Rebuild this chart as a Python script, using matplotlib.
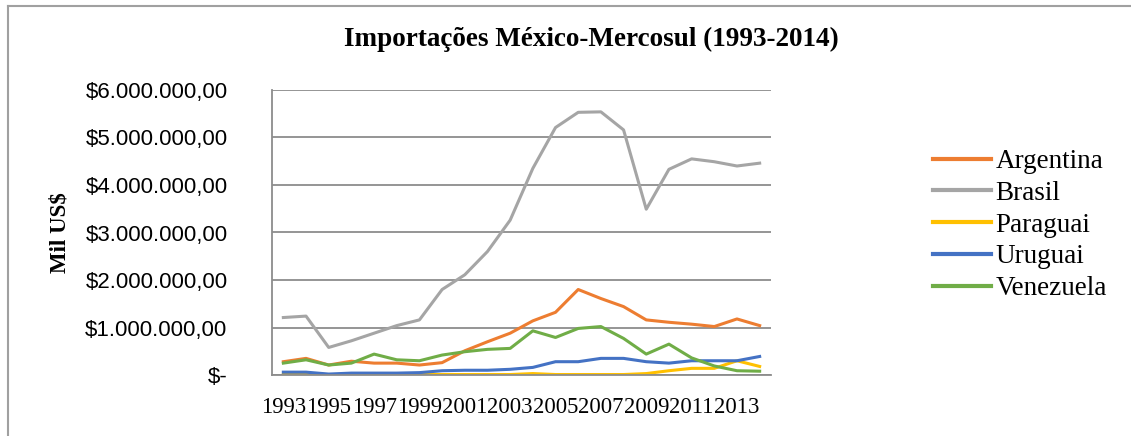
import numpy as np
import matplotlib
matplotlib.use('Agg')
import matplotlib.pyplot as plt
from matplotlib.lines import Line2D
from matplotlib.ticker import FuncFormatter


years = list(range(1993, 2015))

# valores em milhoes de US$
argentina = [0.28, 0.35, 0.21, 0.29, 0.25, 0.25, 0.21, 0.26, 0.51, 0.70, 0.88,
             1.14, 1.32, 1.80, 1.61, 1.44, 1.16, 1.11, 1.07, 1.02, 1.18, 1.04]
brasil = [1.21, 1.24, 0.58, 0.72, 0.88, 1.04, 1.16, 1.80, 2.11, 2.60, 3.26,
          4.35, 5.21, 5.53, 5.54, 5.16, 3.49, 4.33, 4.55, 4.49, 4.40, 4.46]
paraguai = [0.01, 0.01, 0.00, 0.01, 0.01, 0.01, 0.01, 0.01, 0.01, 0.01, 0.01,
            0.03, 0.01, 0.01, 0.01, 0.01, 0.03, 0.09, 0.14, 0.14, 0.30, 0.18]
uruguai = [0.06, 0.06, 0.02, 0.04, 0.04, 0.04, 0.05, 0.09, 0.10, 0.10, 0.12,
           0.16, 0.28, 0.28, 0.35, 0.35, 0.28, 0.25, 0.30, 0.30, 0.30, 0.39]
venezuela = [0.25, 0.32, 0.21, 0.25, 0.44, 0.32, 0.30, 0.42, 0.49, 0.54, 0.56,
             0.93, 0.79, 0.98, 1.02, 0.77, 0.44, 0.65, 0.36, 0.19, 0.09, 0.08]

series = [('Argentina', argentina, '#ED7D31'),
          ('Brasil', brasil, '#A5A5A5'),
          ('Paraguai', paraguai, '#FFC000'),
          ('Uruguai', uruguai, '#4472C4'),
          ('Venezuela', venezuela, '#70AD47')]

serif = 'Liberation Serif'
sans = 'Liberation Sans'


def fmt_money(v, pos):
    if v == 0:
        return '$-'
    s = '{:,.0f}'.format(v * 1e6).replace(',', '.')
    return '$' + s + ',00'


fig = plt.figure(figsize=(11.31, 4.36), dpi=100)
ax = fig.add_axes([272 / 1131, 1 - 375 / 436, (771 - 272) / 1131, (375 - 90) / 436])

x = np.arange(len(years))
for name, vals, col in series:
    ax.plot(x, vals, color=col, lw=2.2, label=name, solid_joinstyle='round')

ax.set_xlim(-0.5, len(years) - 0.5)
ax.set_ylim(0, 6)
ax.set_yticks(range(0, 7))
ax.yaxis.set_major_formatter(FuncFormatter(fmt_money))
ax.set_xticks(x[::2])
ax.set_xticklabels([str(y) for y in years[::2]], fontfamily=serif, fontsize=16.3)
for lab in ax.get_yticklabels():
    lab.set_fontfamily(sans)
    lab.set_fontsize(16)
ax.tick_params(axis='both', length=0, colors='black')
ax.tick_params(axis='y', pad=32)
ax.tick_params(axis='x', pad=16)

ax.grid(axis='y', color='#8c8c8c', lw=1.3)
ax.set_axisbelow(True)
for sp in ['top', 'right']:
    ax.spines[sp].set_visible(False)
for sp in ['left', 'bottom']:
    ax.spines[sp].set_color('#8c8c8c')
    ax.spines[sp].set_linewidth(1.3)

fig.text(60 / 1131, 1 - 233 / 436, 'Mil US$', rotation=90, ha='center', va='center',
         fontfamily=serif, fontweight='bold', fontsize=16.5)

fig.text(591 / 1131, 1 - 39 / 436, 'Importações México-Mercosul (1993-2014)', ha='center', va='center',
         fontfamily=serif, fontweight='bold', fontsize=19.5)

leg = ax.legend(loc='center left', bbox_to_anchor=((933 - 272) / 499, 0.526), frameon=False,
                prop={'family': serif, 'size': 19.5}, handlelength=2.15, handletextpad=0.15,
                labelspacing=0.25, borderaxespad=0, borderpad=0)
for ln in leg.get_lines():
    ln.set_linewidth(3.0)

# borda do grafico
fig.add_artist(Line2D([8 / 1131, 8 / 1131], [0, 1 - 6 / 436], color='#a0a0a0', lw=1.5))
fig.add_artist(Line2D([8 / 1131, 1], [1 - 6 / 436, 1 - 6 / 436], color='#a0a0a0', lw=1.5))

fig.savefig('out.png', dpi=100)
